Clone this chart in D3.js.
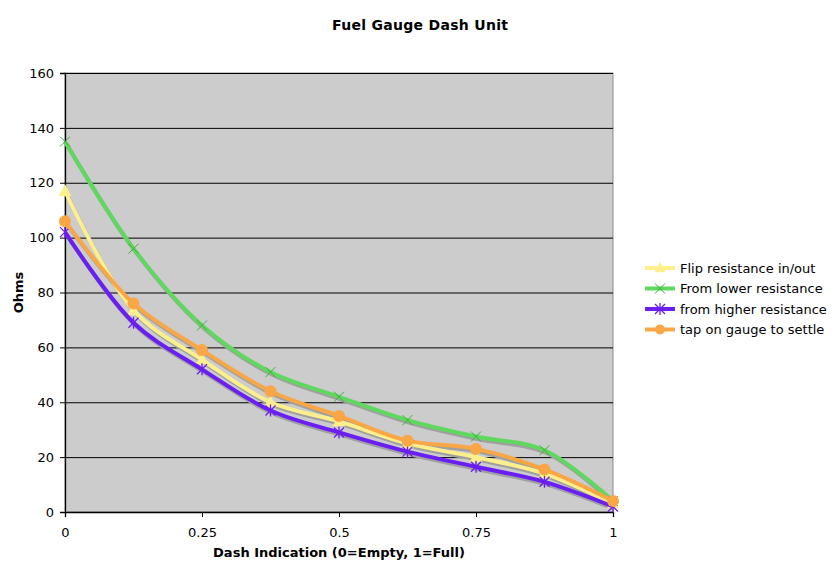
<!DOCTYPE html>
<html>
<head>
<meta charset="utf-8">
<script src="https://cdn.jsdelivr.net/npm/d3@7"></script>
<style>
  body { margin: 0; background: #fff; }
  text { font-family: "DejaVu Sans", Verdana, sans-serif; }
</style>
</head>
<body>
<svg width="839" height="575"></svg>
<script>
// dash position, 0 = empty, 1 = full
var dash = [0, 0.125, 0.25, 0.375, 0.5, 0.625, 0.75, 0.875, 1];
var xTicks = [0, 0.25, 0.5, 0.75, 1];
var yTicks = [0, 20, 40, 60, 80, 100, 120, 140, 160];

var flipInOut = [117, 73.5, 55.5, 40, 33, 25, 20, 14, 3];
var fromLower = [135, 96, 68, 51, 42, 33.5, 27.5, 22.5, 4];
var fromHigher = [102, 69, 52, 37, 29, 22, 16.5, 11, 2];
var tapToSettle = [106, 76, 59, 44, 35, 26, 23, 15.5, 4];

var seriesNames = ["Flip resistance in/out", "From lower resistance", "from higher resistance", "tap on gauge to settle"];
var seriesColors = ["#fdf08c", "#5fd85f", "#6a1ef2", "#f9a646"];
var seriesMarkers = ["triangle", "x", "star", "circle"];
var seriesValues = [flipInOut, fromLower, fromHigher, tapToSettle];

var svg = d3.select("svg"),
    margin = {top: 73, right: 226, bottom: 63, left: 65},
    width = +svg.attr("width") - margin.left - margin.right,
    height = +svg.attr("height") - margin.top - margin.bottom;

var g = svg.append("g").attr("transform", "translate(" + margin.left + "," + margin.top + ")");

var x = d3.scaleLinear().domain([0, 1]).range([0, width]);
var y = d3.scaleLinear().domain([0, 160]).range([height, 0]);

// plot background
g.append("rect")
    .attr("width", width)
    .attr("height", height)
    .attr("fill", "#cccccc")
    .attr("stroke", "#8c8c8c")
    .attr("stroke-width", 1);

// gridlines
g.selectAll(".grid")
    .data(yTicks.slice(1, -1))
    .enter().append("line")
    .attr("x1", 0).attr("x2", width)
    .attr("y1", function (d) { return y(d) + 0.5; })
    .attr("y2", function (d) { return y(d) + 0.5; })
    .attr("stroke", "#000")
    .attr("stroke-width", 1);

g.append("line")
    .attr("x1", 0).attr("x2", width)
    .attr("y1", 0.5).attr("y2", 0.5)
    .attr("stroke", "#000");

// axes
var yAxis = g.append("g")
    .call(d3.axisLeft(y).tickValues(yTicks).tickSize(5).tickPadding(6));
var xAxis = g.append("g")
    .attr("transform", "translate(0," + height + ")")
    .call(d3.axisBottom(x).tickValues(xTicks).tickSize(5).tickPadding(11)
        .tickFormat(function (d) { return String(d); }));

[yAxis, xAxis].forEach(function (a) {
    a.select(".domain").attr("stroke", "#000").attr("stroke-width", 1.3);
    a.selectAll(".tick line").attr("stroke", "#000");
    a.selectAll("text").attr("font-size", 13).attr("fill", "#000")
        .style("font-family", "'DejaVu Sans', Verdana, sans-serif");
});

var line = d3.line()
    .x(function (d, i) { return x(dash[i]); })
    .y(function (d) { return y(d); })
    .curve(d3.curveCatmullRom.alpha(0.5));

function drawMarker(sel, type, color, size) {
    if (type === "triangle") {
        sel.append("path").attr("d", "M0," + (-size) + "L" + (size * 0.9) + "," + (size * 0.7) + "L" + (-size * 0.9) + "," + (size * 0.7) + "Z")
            .attr("fill", color);
    } else if (type === "circle") {
        sel.append("circle").attr("r", size).attr("fill", color);
    } else if (type === "x") {
        sel.append("path").attr("d", "M-5,-5L5,5M-5,5L5,-5").attr("stroke", color).attr("stroke-width", 1);
    } else {
        sel.append("path").attr("d", "M-5,-5L5,5M-5,5L5,-5M0,-6L0,6").attr("stroke", color).attr("stroke-width", 1.3);
    }
}

// shadows first
seriesValues.forEach(function (vals) {
    g.append("path")
        .datum(vals)
        .attr("fill", "none")
        .attr("stroke", "#a0a0a0")
        .attr("stroke-width", 4)
        .attr("transform", "translate(1.5,2.5)")
        .attr("d", line);
});

seriesValues.forEach(function (vals, k) {
    g.append("path")
        .datum(vals)
        .attr("fill", "none")
        .attr("stroke", seriesColors[k])
        .attr("stroke-width", 4)
        .attr("stroke-linejoin", "round")
        .attr("d", line);
    vals.forEach(function (v, i) {
        var m = g.append("g").attr("transform", "translate(" + x(dash[i]) + "," + y(v) + ")");
        drawMarker(m, seriesMarkers[k], k === 1 ? "#3fae3f" : seriesColors[k], k === 3 ? 6 : 7);
    });
});

// title
svg.append("text")
    .attr("x", 420).attr("y", 30)
    .attr("text-anchor", "middle")
    .attr("font-size", 14).attr("font-weight", "bold")
    .attr("textLength", 176)
    .text("Fuel Gauge Dash Unit");

svg.append("text")
    .attr("x", margin.left + width / 2).attr("y", 557)
    .attr("text-anchor", "middle")
    .attr("font-size", 13).attr("font-weight", "bold")
    .text("Dash Indication (0=Empty, 1=Full)");

svg.append("text")
    .attr("transform", "translate(23," + (margin.top + height / 2) + ") rotate(-90)")
    .attr("text-anchor", "middle")
    .attr("font-size", 13).attr("font-weight", "bold")
    .text("Ohms");

// legend
var legend = svg.append("g").attr("transform", "translate(645,268)");
seriesNames.forEach(function (name, k) {
    var row = legend.append("g").attr("transform", "translate(0," + (k * 20.5) + ")");
    row.append("line").attr("x1", 0).attr("x2", 30)
        .attr("stroke", seriesColors[k]).attr("stroke-width", 4);
    var m = row.append("g").attr("transform", "translate(15,0)");
    drawMarker(m, seriesMarkers[k], k === 1 ? "#3fae3f" : seriesColors[k], k === 3 ? 5 : 6);
    row.append("text").attr("x", 35).attr("y", 4.5)
        .attr("font-size", 13)
        .text(name);
});
</script>
</body>
</html>
